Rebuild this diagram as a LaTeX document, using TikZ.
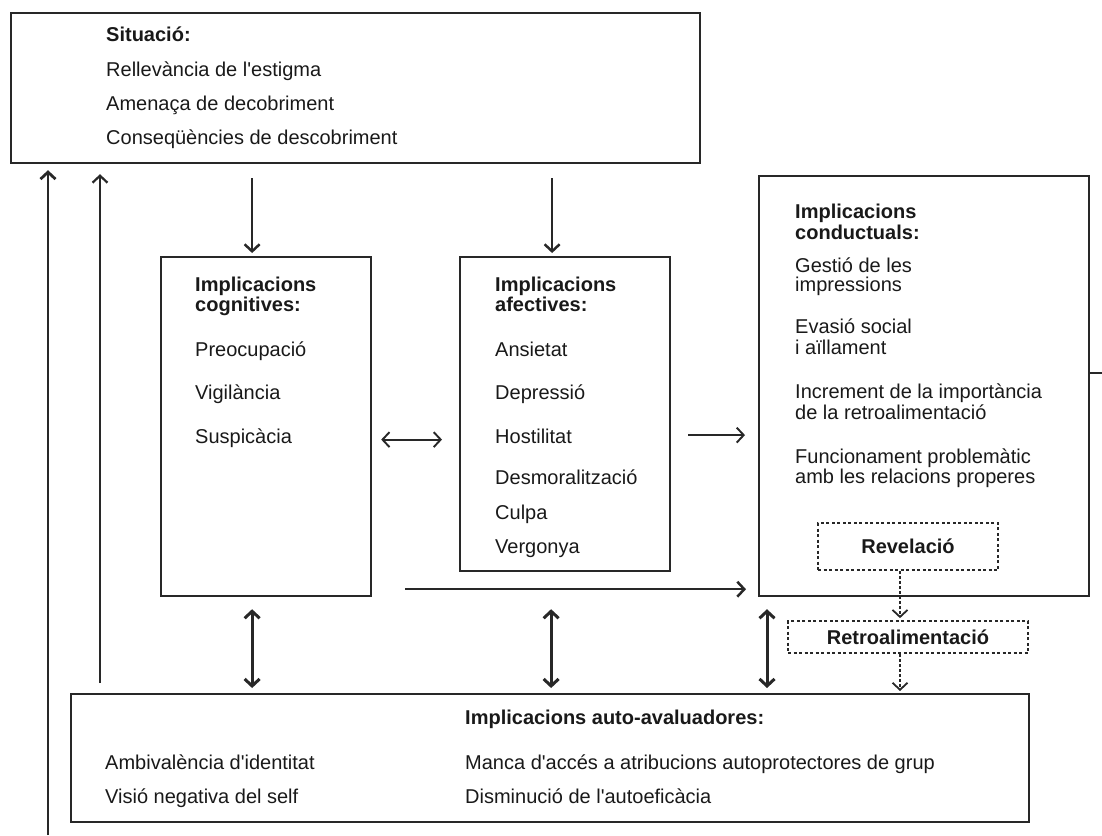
\documentclass[tikz,border=0pt]{standalone}
\usepackage{fontspec}
\setmainfont{Liberation Sans}
\usepackage{tikz}
\usetikzlibrary{arrows.meta, positioning, calc}
\definecolor{boxgray}{RGB}{40,40,40}
\definecolor{txtblack}{RGB}{25,25,25}
\newcommand{\diagsize}{\fontsize{20}{20}\selectfont}
\newcommand{\ap}{\textquotesingle}

\tikzset{
  panel/.style={draw=boxgray, line width=2.2pt, anchor=north west, inner sep=0pt},
  dashpanel/.style={draw=boxgray, line width=1.7pt, dash pattern=on 3pt off 2.5pt, inner sep=0pt, font=\diagsize\bfseries, text=txtblack},
  item/.style={anchor=base west, inner sep=0pt, text=txtblack, font=\diagsize},
  head/.style={item, font=\diagsize\bfseries},
  link/.style={draw=boxgray, line width=2.5pt, ->},
  twoway/.style={draw=boxgray, line width=3pt, <->},
  dashlink/.style={draw=boxgray, line width=1.8pt, dash pattern=on 3pt off 2pt, ->},
  >={Straight Barb[length=7pt, width=15pt]}
}

\begin{document}
\begin{tikzpicture}[x=1pt, y=-1pt]
\useasboundingbox (0,0) rectangle (1102,835);

% Boxes
\node[panel, minimum width=689pt, minimum height=150pt] (situacio) at (10,12) {};
\node[panel, minimum width=210pt, minimum height=339pt] (cogn) at (160,256) {};
\node[panel, minimum width=210pt, minimum height=314pt] (afect) at (459,256) {};
\node[panel, minimum width=330pt, minimum height=420pt] (cond) at (758,175) {};
\node[panel, minimum width=958pt, minimum height=128pt] (autoaval) at (70,693) {};
\node[dashpanel, minimum width=180pt, minimum height=47pt] (revel) at (908,546.5) {Revelació};
\node[dashpanel, minimum width=240pt, minimum height=32pt] (retro) at (908,637) {Retroalimentació};

% Situació
\node[head] (sitT) at (106,41) {Situació:};
\node[item] (sit1) at (106,76) {Rellevància de l\ap estigma};
\node[item] (sit2) at (106,110) {Amenaça de decobriment};
\node[item] (sit3) at (106,144) {Conseqüències de descobriment};

% Implicacions cognitives
\node[head] (cogT1) at (195,291) {Implicacions};
\node[head] (cogT2) at (195,311) {cognitives:};
\node[item] (cog1) at (195,356) {Preocupació};
\node[item] (cog2) at (195,399) {Vigilància};
\node[item] (cog3) at (195,443) {Suspicàcia};

% Implicacions afectives
\node[head] (afT1) at (495,291) {Implicacions};
\node[head] (afT2) at (495,311) {afectives:};
\node[item] (af1) at (495,356) {Ansietat};
\node[item] (af2) at (495,399) {Depressió};
\node[item] (af3) at (495,443) {Hostilitat};
\node[item] (af4) at (495,484) {Desmoralització};
\node[item] (af5) at (495,519) {Culpa};
\node[item] (af6) at (495,553) {Vergonya};

% Implicacions conductuals
\node[head] (coT1) at (795,218) {Implicacions};
\node[head] (coT2) at (795,239) {conductuals:};
\node[item] (co1a) at (795,272) {Gestió de les};
\node[item] (co1b) at (795,291) {impressions};
\node[item] (co2a) at (795,333) {Evasió social};
\node[item] (co2b) at (795,354) {i aïllament};
\node[item] (co3a) at (795,398) {Increment de la importància};
\node[item] (co3b) at (795,419) {de la retroalimentació};
\node[item] (co4a) at (795,463) {Funcionament problemàtic};
\node[item] (co4b) at (795,483) {amb les relacions properes};

% Implicacions auto-avaluadores
\node[head] (auT) at (465,724) {Implicacions auto-avaluadores:};
\node[item] (au1) at (105,769) {Ambivalència d\ap identitat};
\node[item] (au2) at (105,803) {Visió negativa del self};
\node[item] (au3) at (465,769) {Manca d\ap accés a atribucions autoprotectores de grup};
\node[item] (au4) at (465,803) {Disminució de l\ap autoeficàcia};

% Connectors
\draw[link] ($(situacio.south -| cogn.north)+(-14,14)$) -- ($(cogn.north)+(-14,-3)$);
\draw[link] ($(situacio.south -| afect.north)+(-13,14)$) -- ($(afect.north)+(-13,-3)$);
\draw[link, line width=1.9pt, <->] ($(cogn.east)+(9,13)$) -- ($(cogn.east -| afect.west)+(-17,13)$);
\draw[link, line width=1.9pt] ($(afect.east)+(17,21)$) -- ($(afect.east -| cond.west)+(-13,21)$);
\draw[link] ($(cogn.south east)+(33,-8)$) -- ($(cogn.south east -| cond.west)+(-12,-8)$);
\draw[twoway] ($(cogn.south)+(-14,12)$) -- ($(cogn.south |- autoaval.north)+(-14,-5)$);
\draw[twoway] ($(afect.south |- cogn.south)+(-14,12)$) -- ($(afect.south |- autoaval.north)+(-14,-5)$);
\draw[twoway] ($(cond.south west)+(9,12)$) -- ($(cond.south west |- autoaval.north)+(9,-5)$);
\draw[dashlink] ($(revel.south)+(-8,0)$) -- ($(retro.north)+(-8,-2)$);
\draw[dashlink] ($(retro.south)+(-8,0)$) -- ($(retro.south |- autoaval.north)+(-8,-2)$);

% Feedback lines
\coordinate (feedA) at (48,835);
\coordinate (feedB) at (100,683);
\coordinate (exitR) at (1102,373);
\draw[link, line width=2.8pt] (feedA) -- ($(feedA |- situacio.south)+(0,6)$);
\draw[link, line width=2.2pt] (feedB) -- ($(feedB |- situacio.south)+(0,10)$);
\draw[boxgray, line width=2.2pt] (cond.east |- exitR) -- (exitR);
\end{tikzpicture}
\end{document}
